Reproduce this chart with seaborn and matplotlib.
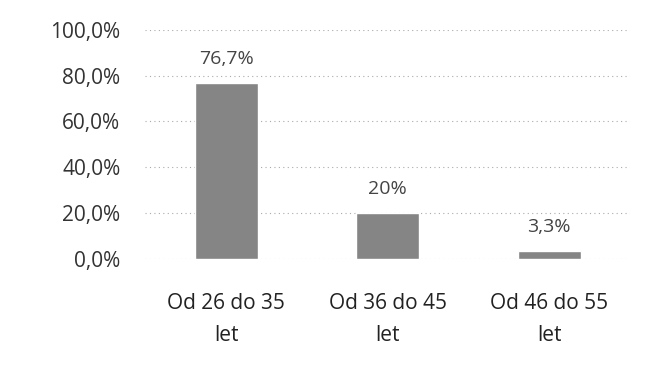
import matplotlib
matplotlib.use("Agg")
import matplotlib.pyplot as plt
import seaborn as sns
import pandas as pd

categories = ["Od 26 do 35\nlet", "Od 36 do 45\nlet", "Od 46 do 55\nlet"]
shares = [76.7, 20.0, 3.3]
bar_labels = ["76,7%", "20%", "3,3%"]
y_ticks = [0, 20, 40, 60, 80, 100]
y_tick_labels = ["0,0%", "20,0%", "40,0%", "60,0%", "80,0%", "100,0%"]

sns.set_theme(style="white")
plt.rcParams["font.family"] = ["Open Sans", "DejaVu Sans"]

df = pd.DataFrame({"kat": categories, "delez": shares})

fig = plt.figure(figsize=(6.46, 3.72), dpi=100)
ax = fig.add_axes([0.225, 0.305, 0.75, 0.615])

sns.barplot(data=df, x="kat", y="delez", color="#858585", width=0.39,
            saturation=1, ax=ax, zorder=2)

for i, (v, lab) in enumerate(zip(shares, bar_labels)):
    ax.annotate(lab, (i, v), xytext=(0, 11), textcoords="offset points",
                ha="center", va="bottom", fontsize=14, color="#444444")

ax.set_ylim(0, 100)
ax.set_xlim(-0.5, 2.5)
ax.set_yticks(y_ticks)
ax.set_yticklabels(y_tick_labels)
ax.yaxis.grid(True, linestyle=(0, (1, 3)), color="#aaaaaa", linewidth=0.8, zorder=0)
ax.set_xlabel("")
ax.set_ylabel("")
ax.tick_params(axis="y", labelsize=15, colors="#333333", length=0, pad=18)
ax.tick_params(axis="x", labelsize=15, colors="#222222", length=0, pad=25)
for t in ax.get_xticklabels():
    t.set_linespacing(1.7)
for s in ax.spines.values():
    s.set_visible(False)

fig.savefig("out.png", dpi=100)
